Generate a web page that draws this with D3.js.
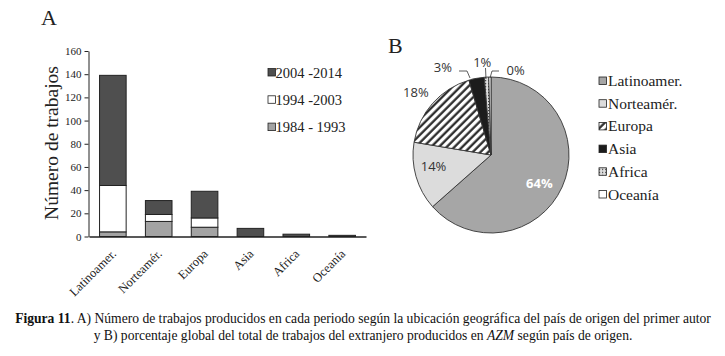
<!DOCTYPE html>
<html>
<head>
<meta charset="utf-8">
<script src="https://cdn.jsdelivr.net/npm/d3@7"></script>
<style>
  body { margin: 0; background: #fff; }
  text { font-family: "Liberation Serif", "Times New Roman", serif; }
</style>
</head>
<body>
<div id="chart"></div>
<script>
// Regions shown on the x axis (and in the pie)
const regions = ["Latinoamer.", "Norteamér.", "Europa", "Asia", "Africa", "Oceanía"];
// Periods, bottom of stack first
const periods = ["1984 - 1993", "1994 -2003", "2004 -2014"];
const p1984 = [4, 13, 8, 0, 0, 0];
const p1994 = [40, 6, 8, 0, 0, 0];
const p2004 = [95, 12, 23, 7, 2, 1];
const yTicks = [0, 20, 40, 60, 80, 100, 120, 140, 160];

const W = 725, H = 356;
const svg = d3.select("#chart").append("svg")
    .attr("width", W).attr("height", H);
svg.append("rect").attr("width", W).attr("height", H).attr("fill", "#fff");

// ---------- Panel A: stacked bars ----------
const tableA = regions.map((r, i) => ({
    region: r, "1984 - 1993": p1984[i], "1994 -2003": p1994[i], "2004 -2014": p2004[i]
}));
const series = d3.stack().keys(periods)(tableA);

const x = d3.scaleBand().domain(regions).range([89, 366])
    .paddingInner(0.42).paddingOuter(0.23);
const y = d3.scaleLinear().domain([0, 160]).range([236.5, 51]);
const barColor = d3.scaleOrdinal().domain(periods).range(["#a3a3a3", "#ffffff", "#4f4f4f"]);

svg.append("text").attr("x", 41).attr("y", 25)
    .style("font-size", "22px").style("fill", "#222").text("A");

const gy = svg.append("g").attr("transform", "translate(88.5,0)")
    .call(d3.axisLeft(y).tickValues(yTicks).tickSize(4).tickSizeOuter(0).tickPadding(3));
gy.selectAll("text").style("font-size", "11px").style("fill", "#222");
gy.selectAll("line, path").attr("stroke", "#222");

svg.append("text")
    .attr("transform", "translate(58,143) rotate(-90)")
    .attr("text-anchor", "middle")
    .style("font-size", "19.5px").style("fill", "#222")
    .text("Número de trabajos");

svg.append("g").selectAll("g")
    .data(series).join("g")
    .attr("fill", d => barColor(d.key))
    .selectAll("rect")
    .data(d => d).join("rect")
    .attr("x", d => x(d.data.region))
    .attr("y", d => y(d[1]))
    .attr("width", x.bandwidth())
    .attr("height", d => y(d[0]) - y(d[1]))
    .attr("stroke", "#222")
    .attr("stroke-width", 1)
    .attr("opacity", d => d[1] - d[0] > 0 ? 1 : 0);

const gx = svg.append("g").attr("transform", "translate(0,236.5)")
    .call(d3.axisBottom(x).tickSize(0).tickSizeOuter(0).tickPadding(0));
gx.select(".domain").attr("stroke", "#222").attr("stroke-width", 1.3);
gx.selectAll("text")
    .style("font-size", "12.5px")
    .style("fill", "#222")
    .attr("text-anchor", "end")
    .attr("dy", 0)
    .attr("transform", "translate(4,18) rotate(-45)");

// legend A (top item = latest period)
const legA = svg.append("g").selectAll("g")
    .data(periods.slice().reverse()).join("g")
    .attr("transform", (d, i) => `translate(268,${72.5 + i * 27.3})`);
legA.append("rect").attr("x", 0).attr("y", -4).attr("width", 7.5).attr("height", 7.5)
    .attr("fill", d => barColor(d)).attr("stroke", "#222").attr("stroke-width", 0.8);
legA.append("text").attr("x", 7.5).attr("y", 5)
    .style("font-size", "14.5px").style("fill", "#222").text(d => d);

// ---------- Panel B: pie ----------
const totals = regions.map((r, i) => p1984[i] + p1994[i] + p2004[i]);
const pctLabels = ["64%", "14%", "18%", "3%", "1%", "0%"];

const defs = svg.append("defs");
const hatch = defs.append("pattern").attr("id", "hatch")
    .attr("patternUnits", "userSpaceOnUse").attr("width", 5.5).attr("height", 5.5)
    .attr("patternTransform", "rotate(45)");
hatch.append("rect").attr("width", 5.5).attr("height", 5.5).attr("fill", "#fff");
hatch.append("line").attr("x1", 1.5).attr("y1", 0).attr("x2", 1.5).attr("y2", 5.5)
    .attr("stroke", "#222").attr("stroke-width", 2.2);
const dots = defs.append("pattern").attr("id", "dots")
    .attr("patternUnits", "userSpaceOnUse").attr("width", 3).attr("height", 3);
dots.append("rect").attr("width", 3).attr("height", 3).attr("fill", "#ddd");
dots.append("rect").attr("width", 1.2).attr("height", 1.2).attr("fill", "#444");

const pieFill = ["#a6a6a6", "#dcdcdc", "url(#hatch)", "#1c1c1c", "url(#dots)", "#ffffff"];

svg.append("text").attr("x", 388).attr("y", 53)
    .style("font-size", "22px").style("fill", "#222").text("B");

const cx = 491, cy = 155, R = 78;
const arcs = d3.pie().sort(null).value(d => d)(totals);
const arc = d3.arc().innerRadius(0).outerRadius(R);
const gp = svg.append("g").attr("transform", `translate(${cx},${cy})`);
gp.selectAll("path").data(arcs).join("path")
    .attr("d", arc)
    .attr("fill", (d, i) => pieFill[i])
    .attr("stroke", "#333")
    .attr("stroke-width", 0.9);

// percentage labels, placed by angle/radius factors
const labelPos = [
    { a: 0.335, r: 0.72 }, // 64%
    { a: 0.72, r: 0.75 }, // 14%
    { a: 0.86, r: 1.25 }, // 18%
    { a: 0.92, r: 1.28 }, // 3%
    { a: 0.985, r: 1.19 }, // 1%
    { a: 0.045, r: 1.13 }  // 0%
];
const pieSans = "'Open Sans', 'DejaVu Sans', sans-serif";
arcs.forEach((d, i) => {
    const ang = labelPos[i].a * 2 * Math.PI;
    const rr = labelPos[i].r * R;
    gp.append("text")
        .attr("x", Math.sin(ang) * rr)
        .attr("y", -Math.cos(ang) * rr)
        .attr("text-anchor", "middle")
        .attr("dy", "0.35em")
        .style("font-family", pieSans)
        .style("font-size", "13px")
        .style("font-weight", i === 0 ? "bold" : "normal")
        .style("fill", i === 0 ? "#fff" : "#333")
        .text(pctLabels[i]);
});

// leader lines for the small slices
const leaders = [
    [[459, 71], [467, 71], [470, 78]],
    [[485.5, 68], [486, 79]],
    [[499, 71], [492, 71], [490, 78]]
];
svg.append("g").selectAll("path").data(leaders).join("path")
    .attr("d", d3.line())
    .attr("fill", "none").attr("stroke", "#333").attr("stroke-width", 0.8);

// legend B
const legB = svg.append("g").selectAll("g")
    .data(regions).join("g")
    .attr("transform", (d, i) => `translate(599,${81 + i * 22.7})`);
legB.append("rect").attr("x", 0).attr("y", -4).attr("width", 7.5).attr("height", 7.5)
    .attr("fill", (d, i) => pieFill[i]).attr("stroke", "#222").attr("stroke-width", 0.8);
legB.append("text").attr("x", 9).attr("y", 5)
    .style("font-size", "15.5px").style("fill", "#222").text(d => d);

// ---------- caption ----------
const cap = svg.append("g").style("font-size", "13.6px");
const l1 = cap.append("text").attr("x", 363).attr("y", 323).attr("text-anchor", "middle").style("fill", "#111");
l1.append("tspan").style("font-weight", "bold").text("Figura 11");
l1.append("tspan").text(". A) Número de trabajos producidos en cada periodo según la ubicación geográfica del país de origen del primer autor");
const l2 = cap.append("text").attr("x", 363).attr("y", 340).attr("text-anchor", "middle").style("fill", "#111");
l2.append("tspan").text("y B) porcentaje global del total de trabajos del extranjero producidos en ");
l2.append("tspan").style("font-style", "italic").text("AZM");
l2.append("tspan").text(" según país de origen.");
</script>
</body>
</html>
